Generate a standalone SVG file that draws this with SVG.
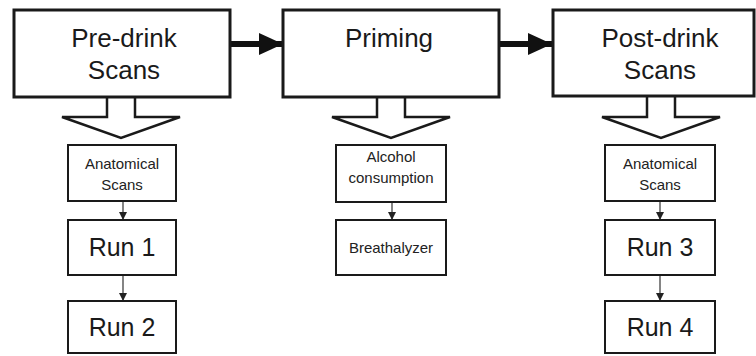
<svg xmlns="http://www.w3.org/2000/svg" width="756" height="356" viewBox="0 0 756 356">
<style>
.big{fill:#fff;stroke:#1a1a1a;stroke-width:3}
.small{fill:#fff;stroke:#1a1a1a;stroke-width:2}
.hollow{fill:#fff;stroke:#1a1a1a;stroke-width:2.5;stroke-linejoin:miter}
.t1{font-family:"Liberation Sans",Arial,sans-serif;font-size:26px;fill:#1a1a1a;text-anchor:middle}
.t2{font-family:"Liberation Sans",Arial,sans-serif;font-size:25px;fill:#1a1a1a;text-anchor:middle}
.t3{font-family:"Liberation Sans",Arial,sans-serif;font-size:15px;fill:#222;text-anchor:middle}
.thick{stroke:#111;stroke-width:6;fill:none}
.thin{stroke:#333;stroke-width:1.2;fill:none}
</style>
<defs>
<marker id="big" viewBox="0 0 24 22" refX="24" refY="11" markerWidth="24" markerHeight="22" markerUnits="userSpaceOnUse" orient="auto">
<path d="M0,0 L24,11 L0,22 Z" fill="#111"/>
</marker>
<marker id="sm" viewBox="0 0 8 8" refX="8" refY="4" markerWidth="8" markerHeight="8" markerUnits="userSpaceOnUse" orient="auto">
<path d="M0,0 L8,4 L0,8 Z" fill="#222"/>
</marker>
</defs>
<g id="connectors">
<line class="thick" x1="230" y1="44" x2="283" y2="44" marker-end="url(#big)"/>
<line class="thick" x1="499" y1="44" x2="552" y2="44" marker-end="url(#big)"/>
<path class="hollow" d="M107,97 L107,117 L62,117 L121,138 L180,117 L135,117 L135,97"/>
<path class="hollow" d="M377,97 L377,117 L332,117 L391,138 L450,117 L405,117 L405,97"/>
<path class="hollow" d="M647,97 L647,117 L602,117 L661,138 L720,117 L675,117 L675,97"/>
<line class="thin" x1="123" y1="201" x2="123" y2="220" marker-end="url(#sm)"/>
<line class="thin" x1="123" y1="275" x2="123" y2="301" marker-end="url(#sm)"/>
<line class="thin" x1="392" y1="202" x2="392" y2="220" marker-end="url(#sm)"/>
<line class="thin" x1="660" y1="201" x2="660" y2="220" marker-end="url(#sm)"/>
<line class="thin" x1="660" y1="275" x2="660" y2="301" marker-end="url(#sm)"/>
</g>
<g id="pre-drink">
<rect class="big" x="14" y="10" width="216" height="87"/>
<text class="t1" x="124" y="47">Pre-drink</text>
<text class="t1" x="124" y="79">Scans</text>
</g>
<g id="priming">
<rect class="big" x="283" y="10" width="216" height="87"/>
<text class="t1" x="389" y="47">Priming</text>
</g>
<g id="post-drink">
<rect class="big" x="553" y="10" width="201" height="86"/>
<text class="t1" x="660" y="47">Post-drink</text>
<text class="t1" x="660" y="79">Scans</text>
</g>
<g id="anat1">
<rect class="small" x="68" y="145" width="108" height="56"/>
<text class="t3" x="122" y="169">Anatomical</text>
<text class="t3" x="122" y="190">Scans</text>
</g>
<g id="run1">
<rect class="small" x="68" y="220" width="108" height="55"/>
<text class="t2" x="122" y="256">Run 1</text>
</g>
<g id="run2">
<rect class="small" x="68" y="301" width="108" height="52"/>
<text class="t2" x="122" y="336">Run 2</text>
</g>
<g id="alcohol">
<rect class="small" x="336" y="145" width="110" height="57"/>
<text class="t3" x="391" y="162">Alcohol</text>
<text class="t3" x="391" y="183">consumption</text>
</g>
<g id="breath">
<rect class="small" x="336" y="220" width="110" height="55"/>
<text class="t3" x="391" y="253">Breathalyzer</text>
</g>
<g id="anat2">
<rect class="small" x="605" y="145" width="110" height="56"/>
<text class="t3" x="660" y="169">Anatomical</text>
<text class="t3" x="660" y="190">Scans</text>
</g>
<g id="run3">
<rect class="small" x="605" y="220" width="110" height="55"/>
<text class="t2" x="660" y="256">Run 3</text>
</g>
<g id="run4">
<rect class="small" x="605" y="301" width="110" height="52"/>
<text class="t2" x="660" y="336">Run 4</text>
</g>
</svg>
